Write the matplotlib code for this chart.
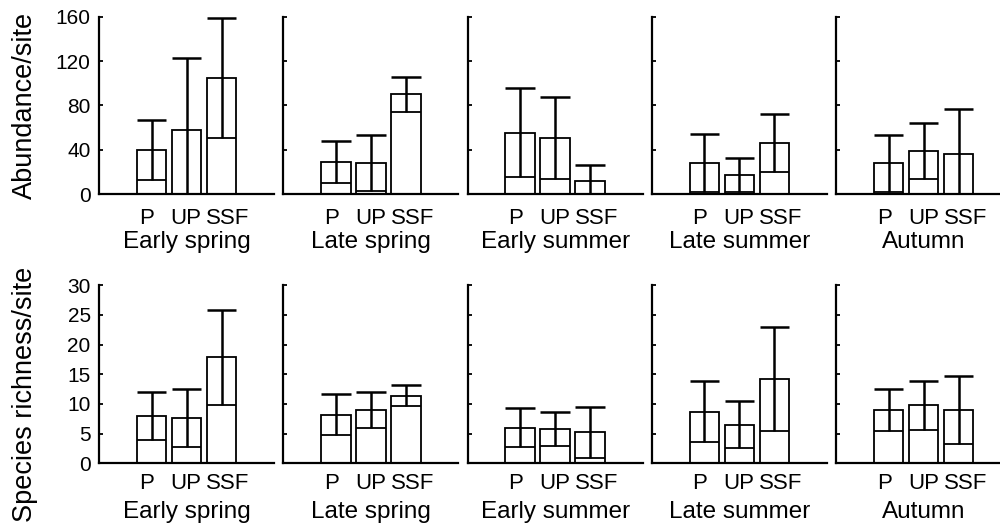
import numpy as np
import matplotlib
matplotlib.use("Agg")
import matplotlib.pyplot as plt

plt.rcParams['font.family'] = ['Liberation Sans', 'DejaVu Sans']

seasons = ["Early spring", "Late spring", "Early summer", "Late summer", "Autumn"]
habitats = ["P", "UP", "SSF"]

# abundance per site: mean and SD, rows = seasons, cols = P, UP, SSF
abund_mean = np.array([
    [40, 58, 105],
    [29, 28, 90],
    [55.5, 51, 12],
    [28, 17.5, 46],
    [28, 39, 36],
])
abund_sd = np.array([
    [27, 65, 54],
    [19, 25, 16],
    [40, 37, 14],
    [26, 15, 26],
    [25.5, 25, 41],
])

# species richness per site
rich_mean = np.array([
    [8.0, 7.7, 17.9],
    [8.2, 9.0, 11.4],
    [6.0, 5.8, 5.2],
    [8.7, 6.5, 14.2],
    [9.0, 9.75, 9.0],
])
rich_sd = np.array([
    [4.0, 4.9, 8.0],
    [3.5, 3.1, 1.8],
    [3.3, 2.9, 4.3],
    [5.1, 4.0, 8.7],
    [3.6, 4.1, 5.7],
])

W, H = 1000, 529
fig = plt.figure(figsize=(W / 100, H / 100), dpi=100)

x = np.array([1.5, 2.5, 3.5])
label_x = [1.37, 2.49, 3.69]
bw = 0.84

rows = [
    (abund_mean, abund_sd, 160, [0, 40, 80, 120, 160], 194.3, 16.7, 10, 1.5),
    (rich_mean, rich_sd, 30, [0, 5, 10, 15, 20, 25, 30], 463.3, 285.3, 7, 5),
]

for r, (mean, sd, ymax, yticks, ybot, ytop, tpad, lpad) in enumerate(rows):
    for c, season in enumerate(seasons):
        left = 99 + c * 184.3
        ax = fig.add_axes([left / W, 1 - ybot / H, 175 / W, (ybot - ytop) / H])
        m = mean[c]
        s = sd[c]
        lo = np.clip(m - s, 0, None)
        hi = m + s
        ax.bar(x, m, width=bw, color="white", edgecolor="black", linewidth=1.3, zorder=2)
        ax.vlines(x, lo, hi, color="black", linewidth=1.8, zorder=3)
        ax.hlines(hi, x - bw / 2, x + bw / 2, color="black", linewidth=1.8, zorder=3)
        ax.hlines(lo, x - bw / 2, x + bw / 2, color="black", linewidth=1.3, zorder=3)
        ax.set_xlim(0, 5)
        ax.set_ylim(0, ymax)
        ax.set_yticks(yticks)
        for sp in ["top", "right"]:
            ax.spines[sp].set_visible(False)
        for sp in ["left", "bottom"]:
            ax.spines[sp].set_linewidth(1.6)
        ax.tick_params(axis="y", direction="in", length=3, width=1.3, pad=6,
                       labelsize=15)
        ax.tick_params(axis="x", length=0, pad=tpad, labelsize=16)
        ax.set_xticks(label_x)
        ax.set_xticklabels(habitats)
        ax.set_xlabel(season, fontsize=17.5, labelpad=lpad)
        if c > 0:
            ax.set_yticklabels([])
        ax.patch.set_visible(False)

fig.text(25 / W, 1 - 105 / H, "Abundance/site", rotation=90, fontsize=19.5,
         ha="center", va="center")
fig.text(25 / W, 1 - 394 / H, "Species richness/site", rotation=90, fontsize=19.5,
         ha="center", va="center")

fig.savefig("out.png", dpi=100)
